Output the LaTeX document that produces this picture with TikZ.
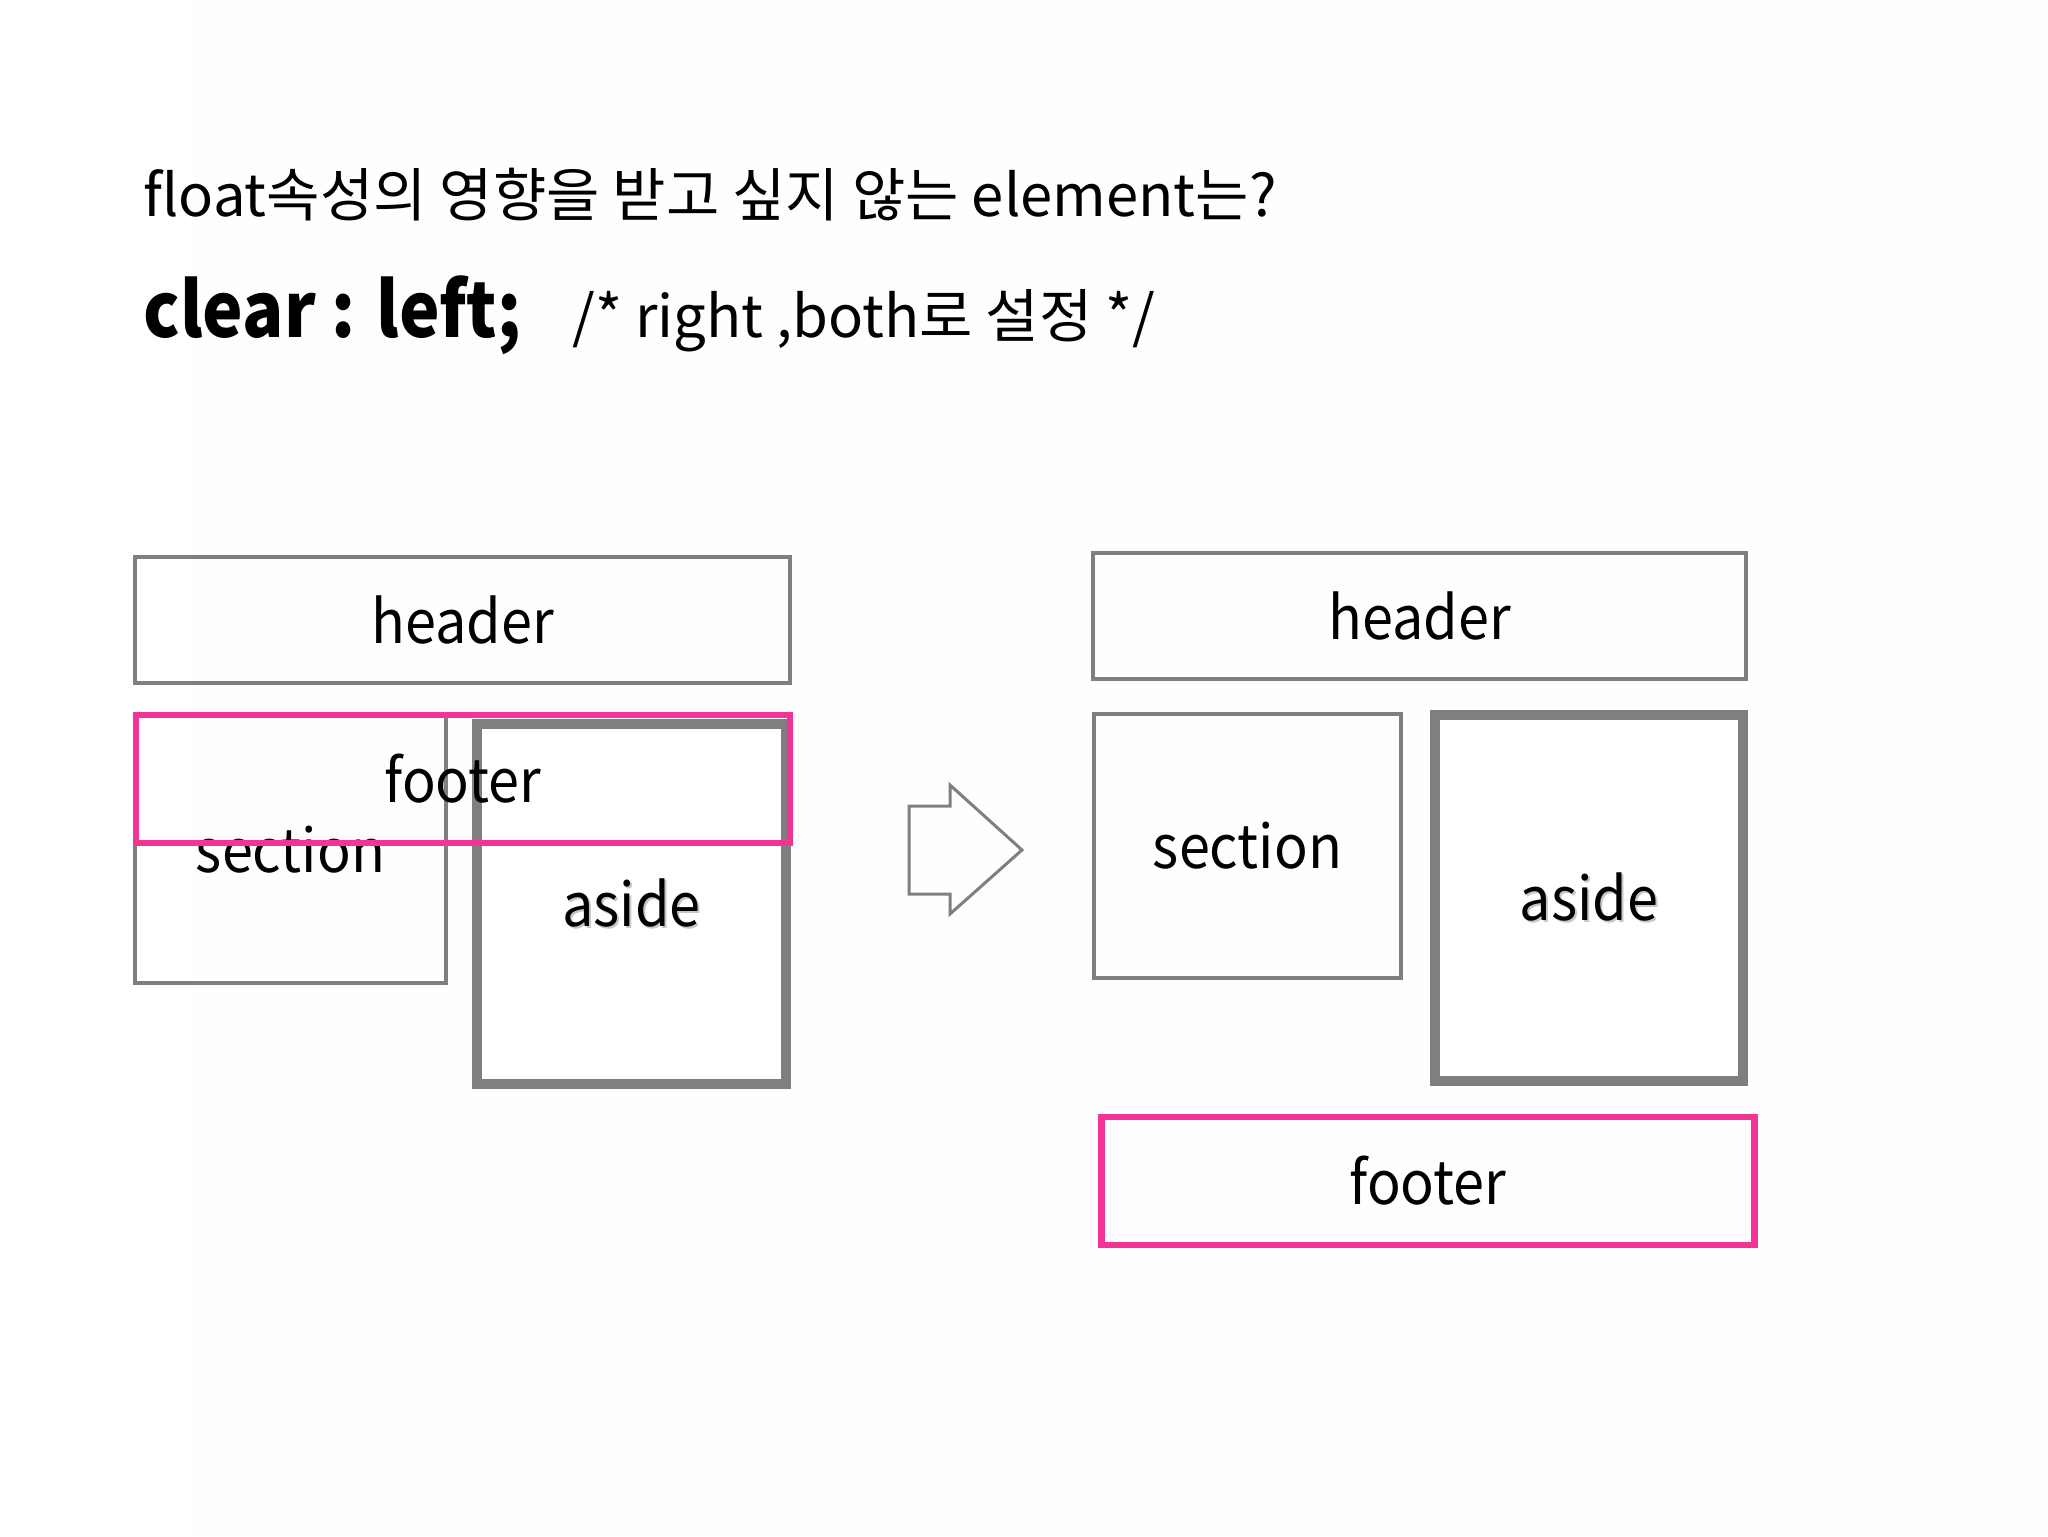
\documentclass[tikz,border=0pt]{standalone}
\usepackage{fontspec}
\usepackage{graphicx}
\setmainfont{Noto Sans CJK KR}
\usetikzlibrary{shadows}
\definecolor{boxgray}{RGB}{127,127,127}
\definecolor{hotpink}{RGB}{242,52,146}
\newcommand\nx[1]{\scalebox{0.93}[1]{#1}}
\newcommand\shtext[1]{\nx{\rlap{\raisebox{-1.3pt}{\hspace{1.1pt}\textcolor{black!22}{#1}}}#1}}
\tikzset{
  lbl/.style={font=\fontsize{30}{36}\selectfont, text=black, inner sep=0pt},
  graybox/.style={lbl, draw=boxgray, line width=1.75pt},
  thickbox/.style={lbl, draw=boxgray, line width=4.75pt, fill=white,
     drop shadow={opacity=0.22, shadow xshift=1.2pt, shadow yshift=-1.2pt}},
  pinkbox/.style={lbl, draw=hotpink, line width=3.25pt},
}
\begin{document}
\begin{tikzpicture}[x=0.5pt,y=-0.5pt]
\useasboundingbox (0,0) rectangle (2048,1536);
\fill[white] (0,0) rectangle (2048,1536);
\fill[black!0.4] (193,0) rectangle (2048,1536);

% title
\node[anchor=base west, inner sep=0pt, font=\fontsize{29}{34}\selectfont] (t1) at (143,216) {float속성의 영향을 받고 싶지 않는 element는?};
\node[anchor=base west, inner sep=0pt, font=\fontsize{38}{44}\selectfont\bfseries] (t2a) at (143,337) {\scalebox{0.9}[1]{clear : left;}};
\node[anchor=base west, inner sep=0pt, font=\fontsize{29}{34}\selectfont] (t2b) at (572,337) {/* right ,both로 설정 */};

% left layout
\node[graybox, minimum width=327.5pt, minimum height=63pt] (lheader) at (462.5,620) {\nx{header}};
\node[graybox, minimum width=155.5pt, minimum height=133.5pt] (lsection) at (290.5,849.5) {\nx{section}};
\node[thickbox, minimum width=154.5pt, minimum height=180pt] (laside) at (631.5,904) {\shtext{aside}};
\node[pinkbox, minimum width=327pt, minimum height=64pt] (lfooter) at (463,779) {\nx{footer}};

% arrow
\draw[boxgray, line width=1.5pt, line join=miter]
  (909,806) -- (950,806) -- (950,785) -- (1022,850) -- (950,914) -- (950,894) -- (909,894) -- cycle;

% right layout
\node[graybox, minimum width=326.5pt, minimum height=63pt] (rheader) at (1419.5,616) {\nx{header}};
\node[graybox, minimum width=153.5pt, minimum height=132pt] (rsection) at (1247.5,846) {\nx{section}};
\node[thickbox, minimum width=154pt, minimum height=183pt] (raside) at (1589,898) {\shtext{aside}};
\node[pinkbox, minimum width=326.5pt, minimum height=64pt] (rfooter) at (1428,1181) {\nx{footer}};
\end{tikzpicture}
\end{document}
